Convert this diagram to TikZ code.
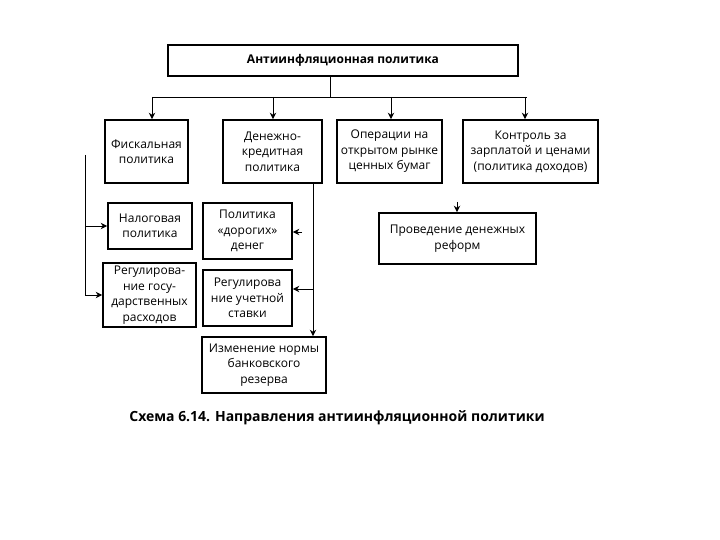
\documentclass[tikz,border=0pt]{standalone}
\usepackage{fontspec}
\setmainfont{Open Sans}
\usetikzlibrary{arrows.meta}
\begin{document}
\begin{tikzpicture}[x=1pt,y=-1pt,
  box/.style={draw, line width=1.6pt, align=center, inner sep=1pt,
    font=\fontsize{12}{15.5}\selectfont},
  conn/.style={line width=0.8pt},
  arr/.style={conn, -{Stealth[length=6.5pt,width=6.5pt]}}]
\useasboundingbox[fill=white] (0,0) rectangle (720,540);
% nodes
\node[box, minimum width=350pt, minimum height=31pt, font=\fontsize{12}{14}\selectfont\bfseries] (top) at (343,60.5) {Антиинфляционная политика};
\node[box, minimum width=83pt, minimum height=63pt] (fisc) at (146.5,151.5) {Фискальная\\политика};
\node[box, minimum width=99pt, minimum height=63pt] (den) at (272.5,151.5) {Денежно-\\кредитная\\политика};
\node[box, minimum width=105pt, minimum height=63pt] (oper) at (389.5,151.5) {Операции на\\открытом рынке\\ценных бумаг};
\node[box, minimum width=135pt, minimum height=63pt] (kontr) at (530.5,151.5) {Контроль за\\зарплатой и ценами\\(политика доходов)};
\node[box, minimum width=84pt, minimum height=46pt] (nal) at (150,226) {Налоговая\\политика};
\node[box, minimum width=93pt, minimum height=64pt] (reg) at (149.5,295) {Регулирова-\\ние госу-\\дарственных\\расходов};
\node[box, minimum width=89pt, minimum height=56pt] (dor) at (247.5,231) {Политика\\«дорогих»\\денег};
\node[box, minimum width=89pt, minimum height=56pt] (uch) at (247.5,298) {Регулирова\\ние учетной\\ставки};
\node[box, minimum width=124pt, minimum height=56pt] (izm) at (264,365) {Изменение нормы\\банковского\\резерва};
\node[box, minimum width=157pt, minimum height=51pt] (ref) at (457.5,238.5) {Проведение денежных\\реформ};
\node[font=\fontsize{14}{16}\selectfont\bfseries] (cap) at (337,418) {Схема 6.14. Направления антиинфляционной политики};
% coordinates
\coordinate (tp) at (330,97);
\coordinate (hl) at (152,97);
\coordinate (hr) at (527,97);
\coordinate (a1) at (152,97);
\coordinate (a2) at (273,97);
\coordinate (a3) at (391,97);
\coordinate (a4) at (525,97);
\coordinate (lt) at (85,155);
\coordinate (rv) at (313,183);
\coordinate (ds) at (302,232);
\coordinate (rs) at (457,202);
% connectors
\draw[conn] (top.south -| tp) -- (tp);
\draw[conn] (hl) -- (hr);
\draw[arr] (a1) -- (a1 |- fisc.north);
\draw[arr] (a2) -- (a2 |- den.north);
\draw[arr] (a3) -- (a3 |- oper.north);
\draw[arr] (a4) -- (a4 |- kontr.north);
\draw[conn] (lt) -- (lt |- reg.west);
\draw[arr] (lt |- nal.west) -- (nal.west);
\draw[arr] (lt |- reg.west) -- (reg.west);
\draw[arr] (den.south -| rv) -- (izm.north -| rv);
\draw[arr] (rv |- 0,289) -- (uch.east |- 0,289);
\draw[arr] (ds) -- (ds -| dor.east);
\draw[arr] (rs) -- (rs |- ref.north);
\end{tikzpicture}
\end{document}
